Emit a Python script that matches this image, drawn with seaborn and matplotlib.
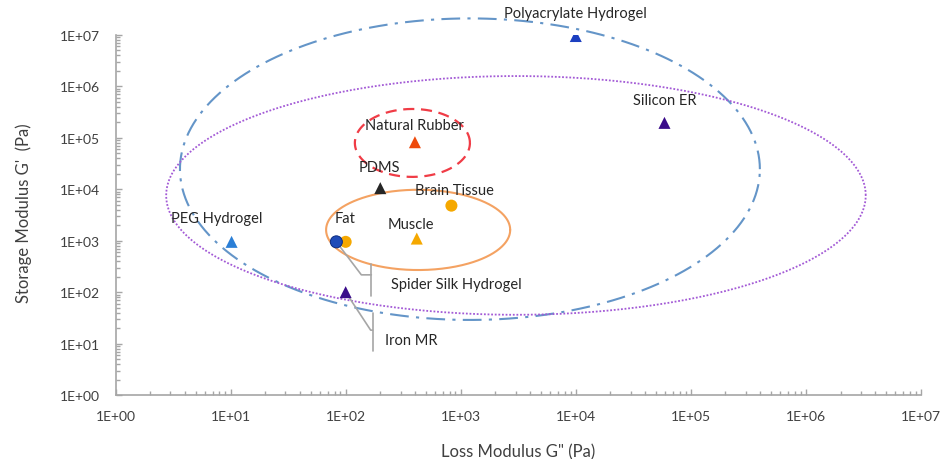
import numpy as np
import pandas as pd
import matplotlib
matplotlib.use("Agg")
import matplotlib.pyplot as plt
import matplotlib.transforms as mtransforms
from matplotlib.ticker import LogLocator, FuncFormatter, NullFormatter
import seaborn as sns

sns.set_theme(style="white")
plt.rcParams['font.family'] = ['Lato', 'DejaVu Sans']

# materials
materials = ["Polyacrylate Hydrogel", "Silicon ER", "Natural Rubber", "PDMS",
             "Brain Tissue", "Muscle", "Fat", "Spider Silk Hydrogel",
             "PEG Hydrogel", "Iron MR"]
loss_modulus = [1.0e4, 5.9e4, 400, 200, 830, 415, 100, 83, 10.2, 100]
storage_modulus = [9.5e6, 1.95e5, 8.2e4, 1.05e4, 4.8e3, 1.1e3, 950, 950, 950, 100]

# region ellipses (log10 centre and half-widths in decades)
region_names = ["blue", "purple", "red", "orange"]
region_cx = [3.08, 3.48, 2.58, 2.63]
region_cy = [4.39, 3.88, 4.90, 3.21]
region_rx = [2.52, 3.04, 0.50, 0.80]
region_ry = [2.93, 2.32, 0.66, 0.78]

ticks = [1, 1e1, 1e2, 1e3, 1e4, 1e5, 1e6, 1e7]

colors = {
    "Polyacrylate Hydrogel": "#1c3fc0", "Silicon ER": "#3a0c8a",
    "Natural Rubber": "#ee4a0c", "PDMS": "#262626",
    "Brain Tissue": "#f5a800", "Muscle": "#f5a800", "Fat": "#f5a800",
    "Spider Silk Hydrogel": "#1f4bb8", "PEG Hydrogel": "#2b7fd6",
    "Iron MR": "#3a0c8a",
}
markers = {m: "^" for m in materials}
for m in ["Brain Tissue", "Fat", "Spider Silk Hydrogel"]:
    markers[m] = "o"

region_styles = {
    "blue": dict(color="#6495c8", lw=1.5, ls=(0, (9, 3.5, 1.5, 3.5))),
    "purple": dict(color="#a35ad6", lw=1.3, ls=(0, (1, 1))),
    "red": dict(color="#f03c46", lw=1.6, ls=(0, (5, 3))),
    "orange": dict(color="#f4a262", lw=1.5, ls="-"),
}

# label offsets in pixels (dx, dy), alignment
label_pos = {
    "Polyacrylate Hydrogel": (0, 23, "center"), "Silicon ER": (0, 23, "center"),
    "Natural Rubber": (0, 17, "center"), "PDMS": (-1, 21, "center"),
    "Brain Tissue": (3, 16, "center"), "Muscle": (-6, 15, "center"),
    "Fat": (-1, 24, "center"), "PEG Hydrogel": (-15, 24, "center"),
    "Spider Silk Hydrogel": (55, -42, "left"), "Iron MR": (39, -48, "left"),
}
leaders = {
    "Spider Silk Hydrogel": ([(0, 0), (25, -33), (35, -33)], (35, -22, -54)),
    "Iron MR": ([(0, 0), (25, -38), (27, -38)], (27, -21, -59)),
}

df = pd.DataFrame({"material": materials, "loss": loss_modulus, "storage": storage_modulus})

fig = plt.figure(figsize=(9.47, 4.60), dpi=100)
ax = fig.add_axes([0.122, 0.139, 0.8505, 0.783])
ax.set_xscale("log")
ax.set_yscale("log")
ax.set_xlim(1, 1e7)
ax.set_ylim(1, 1e7)

t = np.linspace(0, 2 * np.pi, 400)
for name, cx, cy, rx, ry in zip(region_names, region_cx, region_cy, region_rx, region_ry):
    st = region_styles[name]
    ax.plot(10 ** (cx + rx * np.cos(t)), 10 ** (cy + ry * np.sin(t)),
            color=st["color"], lw=st["lw"], linestyle=st["ls"], zorder=2, clip_on=False)

ax.set_xlim(1, 1e7)
ax.set_ylim(1, 1e7)

# leader lines (drawn in pixel space from each point)
for name, (path, (bx, b0, b1)) in leaders.items():
    i = materials.index(name)
    px, py = ax.transData.transform((loss_modulus[i], storage_modulus[i]))
    xs = [px + dx for dx, dy in path]
    ys = [py + dy for dx, dy in path]
    ax.plot(xs, ys, color="#a6a6a6", lw=1.2, transform=mtransforms.IdentityTransform(),
            zorder=2.5, clip_on=False)
    ax.plot([px + bx, px + bx], [py + b0, py + b1], color="#a6a6a6", lw=1.2,
            transform=mtransforms.IdentityTransform(), zorder=2.5, clip_on=False)

sns.scatterplot(data=df, x="loss", y="storage", hue="material", style="material",
                palette=colors, markers=markers, s=75, edgecolor="none",
                legend=False, ax=ax, zorder=3)
ax.collections[-1].set_edgecolor(["none"] * 7 + ["#0a2a80", "none", "none"])

for name, x, y in zip(materials, loss_modulus, storage_modulus):
    dx, dy, ha = label_pos[name]
    ax.annotate(name, (x, y), xytext=(dx, dy), textcoords="offset pixels",
                ha=ha, va="center", fontsize=10.5, color="#262626", zorder=4)

ax.set_xlim(1, 1e7)
ax.set_ylim(1, 1e7)

fmt = FuncFormatter(lambda v, p: "{:.0E}".format(v))
for axis in (ax.xaxis, ax.yaxis):
    axis.set_major_locator(LogLocator(base=10, numticks=10))
    axis.set_minor_locator(LogLocator(base=10, subs=np.arange(2, 10), numticks=10))
    axis.set_major_formatter(fmt)
    axis.set_minor_formatter(NullFormatter())
ax.set_xticks(ticks)
ax.set_yticks(ticks)

ax.tick_params(which="both", direction="in", color="#a6a6a6", width=1,
               labelsize=10, labelcolor="#404040", bottom=True, left=True)
ax.tick_params(which="major", length=4)
ax.tick_params(which="minor", length=3)
ax.tick_params(axis="x", which="major", pad=11)
ax.tick_params(axis="y", which="major", pad=11)

for side in ["top", "right"]:
    ax.spines[side].set_visible(False)
for side in ["bottom", "left"]:
    ax.spines[side].set_color("#a6a6a6")
    ax.spines[side].set_linewidth(1.2)

ax.set_xlabel("Loss Modulus G\" (Pa)", fontsize=12, color="#404040")
ax.set_ylabel("Storage Modulus G'  (Pa)", fontsize=12, color="#404040")
ax.xaxis.set_label_coords(0.5, -0.133)
ax.yaxis.set_label_coords(-0.104, 0.508)

fig.savefig("out.png", dpi=100)
